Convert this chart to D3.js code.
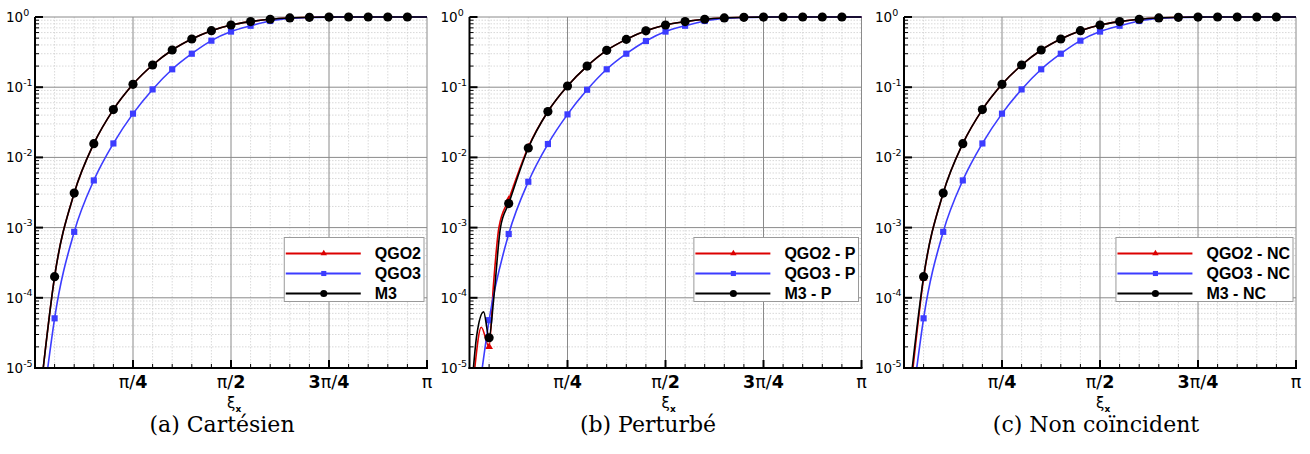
<!DOCTYPE html>
<html>
<head>
<meta charset="utf-8">
<script src="https://cdn.jsdelivr.net/npm/d3@7/dist/d3.min.js"></script>
<style>
body { margin: 0; background: #fff; }
</style>
</head>
<body>
<svg id="chart" width="1310" height="454"></svg>
<script>
// ---- data (x in units of pi/20, y = error) ----
var kTail = [1, 2, 3, 4, 5, 6, 7, 8, 9, 10, 11, 12, 13, 14, 15, 16, 17, 18, 19, 20];
var kTail2 = [2, 3, 4, 5, 6, 7, 8, 9, 10, 11, 12, 13, 14, 15, 16, 17, 18, 19, 20];
var kTail3 = [3, 4, 5, 6, 7, 8, 9, 10, 11, 12, 13, 14, 15, 16, 17, 18, 19, 20];

// (a) Cartésien
var m3A_x = [0.42].concat(kTail);
var m3A_y = [1e-5, 2.0e-4, 3.1e-3, 1.57e-2, 4.8e-2, 0.11, 0.207, 0.339, 0.486, 0.638, 0.77, 0.86, 0.93, 0.97, 0.99, 0.997, 1, 1, 1, 1, 1];
var qgo2A_x = [0.42].concat(kTail);
var qgo2A_y = [1e-5, 2.0e-4, 3.1e-3, 1.57e-2, 4.8e-2, 0.11, 0.207, 0.339, 0.486, 0.638, 0.77, 0.86, 0.93, 0.97, 0.99, 0.997, 1, 1, 1, 1, 1];
var qgo3A_x = [0.65].concat(kTail);
var qgo3A_y = [1e-5, 5.1e-5, 8.7e-4, 4.7e-3, 1.58e-2, 4.2e-2, 9.3e-2, 0.18, 0.30, 0.46, 0.62, 0.75, 0.877, 0.95, 0.985, 0.997, 1, 1, 1, 1, 1];

// (b) Perturbé
var m3B_x = [0.2, 0.36, 0.72, 1, 1.24, 1.58].concat(kTail2);
var m3B_y = [1e-5, 2.8e-5, 6.3e-5, 2.7e-5, 1e-4, 1e-3, 2.2e-3, 1.36e-2, 4.5e-2, 0.104, 0.2, 0.335, 0.48, 0.635, 0.77, 0.86, 0.93, 0.97, 0.99, 0.997, 1, 1, 1, 1, 1];
var qgo2B_x = [0.27, 0.6, 1, 1.22, 1.5, 2].concat(kTail3);
var qgo2B_y = [1e-5, 3.8e-5, 2e-5, 1.5e-4, 1e-3, 2.5e-3, 1.4e-2, 4.5e-2, 0.104, 0.2, 0.335, 0.48, 0.635, 0.77, 0.86, 0.93, 0.97, 0.99, 0.997, 1, 1, 1, 1, 1];
var qgo3B_x = [0.65].concat(kTail);
var qgo3B_y = [1e-5, 4.8e-5, 8.1e-4, 4.5e-3, 1.55e-2, 4.1e-2, 9.2e-2, 0.18, 0.30, 0.455, 0.62, 0.75, 0.877, 0.95, 0.985, 0.997, 1, 1, 1, 1, 1];

// (c) Non coïncident
var m3C_x = [0.42].concat(kTail);
var m3C_y = [1e-5, 2.0e-4, 3.1e-3, 1.57e-2, 4.8e-2, 0.11, 0.207, 0.339, 0.486, 0.638, 0.77, 0.86, 0.93, 0.97, 0.99, 0.997, 1, 1, 1, 1, 1];
var qgo2C_x = [0.46].concat(kTail);
var qgo2C_y = [1e-5, 1.9e-4, 3.1e-3, 1.57e-2, 4.8e-2, 0.11, 0.207, 0.339, 0.486, 0.638, 0.77, 0.86, 0.93, 0.97, 0.99, 0.997, 1, 1, 1, 1, 1];
var qgo3C_x = [0.65].concat(kTail);
var qgo3C_y = [1e-5, 5.1e-5, 8.7e-4, 4.7e-3, 1.58e-2, 4.2e-2, 9.3e-2, 0.18, 0.30, 0.46, 0.62, 0.75, 0.877, 0.95, 0.985, 0.997, 1, 1, 1, 1, 1];

// ticks
var xTickVals = [Math.PI / 4, Math.PI / 2, 3 * Math.PI / 4, Math.PI];
var xTickLabels = ["π/4", "π/2", "3π/4", "π"];
var yTickExps = [0, -1, -2, -3, -4, -5];
var seriesNames = ["QGO2", "QGO3", "M3"];
var captions = ["(a) Cartésien", "(b) Perturbé", "(c) Non coïncident"];
var suffixes = ["", " - P", " - NC"];

// ---- layout ----
var svg = d3.select("#chart");
var plotW = 392, plotH = 351, plotTop = 17;
var lefts = [35, 469.5, 904];
var capX = [222, 648, 1096];
var colors = ["#dc0000", "#3c3cff", "#000000"];
var shapes = [d3.symbolTriangle, d3.symbolSquare, d3.symbolCircle];
var markSize = [26, 38, 66];
var legSize = [18, 26, 40];

var panelData = [
  [[qgo2A_x, qgo2A_y], [qgo3A_x, qgo3A_y], [m3A_x, m3A_y]],
  [[qgo2B_x, qgo2B_y], [qgo3B_x, qgo3B_y], [m3B_x, m3B_y]],
  [[qgo2C_x, qgo2C_y], [qgo3C_x, qgo3C_y], [m3C_x, m3C_y]]
];

var fontSans = "'DejaVu Sans', sans-serif";

lefts.forEach(function (left, p) {
  var x = d3.scaleLinear().domain([0, Math.PI]).range([left, left + plotW]);
  var y = d3.scaleLog().domain([1e-5, 1]).range([plotTop + plotH, plotTop]);
  var g = svg.append("g");

  // minor grid
  var minorX = d3.range(1, 20).filter(function (k) { return k % 5 !== 0; }).map(function (k) { return k * Math.PI / 20; });
  var minorY = [];
  yTickExps.forEach(function (e) {
    if (e === 0) return;
    for (var m = 2; m <= 9; m++) minorY.push(m * Math.pow(10, e));
  });
  g.selectAll(".gx").data(minorX).enter().append("line")
    .attr("x1", function (d) { return x(d); }).attr("x2", function (d) { return x(d); })
    .attr("y1", plotTop).attr("y2", plotTop + plotH)
    .attr("stroke", "#cfcfcf").attr("stroke-width", 0.8).attr("stroke-dasharray", "1.5,1.5");
  g.selectAll(".gy").data(minorY).enter().append("line")
    .attr("x1", left).attr("x2", left + plotW)
    .attr("y1", function (d) { return y(d); }).attr("y2", function (d) { return y(d); })
    .attr("stroke", "#cfcfcf").attr("stroke-width", 0.8).attr("stroke-dasharray", "1.5,1.5");

  // major grid + frame
  g.selectAll(".Gx").data(xTickVals).enter().append("line")
    .attr("x1", function (d) { return x(d); }).attr("x2", function (d) { return x(d); })
    .attr("y1", plotTop).attr("y2", plotTop + plotH)
    .attr("stroke", "#8a8a8a").attr("stroke-width", 1);
  g.selectAll(".Gy").data(yTickExps).enter().append("line")
    .attr("x1", left).attr("x2", left + plotW)
    .attr("y1", function (d) { return y(Math.pow(10, d)); }).attr("y2", function (d) { return y(Math.pow(10, d)); })
    .attr("stroke", "#8a8a8a").attr("stroke-width", 1);

  // curves
  var clipId = "clip" + p;
  svg.append("clipPath").attr("id", clipId).append("rect")
    .attr("x", left).attr("y", plotTop - 4).attr("width", plotW + 2).attr("height", plotH + 4);
  var line = d3.line()
    .x(function (d) { return x(d[0] * Math.PI / 20); })
    .y(function (d) { return y(d[1]); })
    .curve(d3.curveMonotoneX);

  panelData[p].forEach(function (s, i) {
    var pts = s[0].map(function (k, j) { return [k, s[1][j]]; });
    g.append("path").datum(pts)
      .attr("d", line).attr("fill", "none")
      .attr("stroke", colors[i]).attr("stroke-width", 1.6)
      .attr("clip-path", "url(#" + clipId + ")");
    var marks = pts.filter(function (d) { return Number.isInteger(d[0]) && d[0] >= 1 && d[0] <= 19; });
    g.selectAll(".m" + i).data(marks).enter().append("path")
      .attr("d", d3.symbol().type(shapes[i]).size(markSize[i]))
      .attr("transform", function (d) { return "translate(" + x(d[0] * Math.PI / 20) + "," + y(d[1]) + ")"; })
      .attr("fill", colors[i]);
  });

  // axes
  var bottom = plotTop + plotH;
  g.append("line").attr("x1", left).attr("x2", left).attr("y1", plotTop).attr("y2", bottom + 1)
    .attr("stroke", "#000").attr("stroke-width", 2);
  g.append("line").attr("x1", left - 1).attr("x2", left + plotW + 1).attr("y1", bottom).attr("y2", bottom)
    .attr("stroke", "#000").attr("stroke-width", 2);
  // y ticks
  g.selectAll(".ty").data(yTickExps).enter().append("line")
    .attr("x1", left).attr("x2", left + 8)
    .attr("y1", function (d) { return y(Math.pow(10, d)); }).attr("y2", function (d) { return y(Math.pow(10, d)); })
    .attr("stroke", "#000").attr("stroke-width", 2);
  g.selectAll(".tym").data(minorY).enter().append("line")
    .attr("x1", left).attr("x2", left + 4)
    .attr("y1", function (d) { return y(d); }).attr("y2", function (d) { return y(d); })
    .attr("stroke", "#000").attr("stroke-width", 1);
  // x ticks
  g.selectAll(".tx").data(xTickVals).enter().append("line")
    .attr("x1", function (d) { return x(d); }).attr("x2", function (d) { return x(d); })
    .attr("y1", bottom).attr("y2", bottom - 8)
    .attr("stroke", "#000").attr("stroke-width", 2);
  g.selectAll(".txm").data(minorX).enter().append("line")
    .attr("x1", function (d) { return x(d); }).attr("x2", function (d) { return x(d); })
    .attr("y1", bottom).attr("y2", bottom - 4)
    .attr("stroke", "#000").attr("stroke-width", 1);

  // y tick labels 10^n
  var yl = g.selectAll(".yl").data(yTickExps).enter().append("text")
    .attr("x", left - 29).attr("y", function (d) { return y(Math.pow(10, d)) + 5; })
    .attr("font-family", fontSans).attr("font-size", 13.5).attr("fill", "#000");
  yl.append("tspan").text("10");
  yl.append("tspan").attr("dy", -6.5).attr("font-size", 9.5).text(function (d) { return d === 0 ? "0" : "-" + (-d); });

  // x tick labels: digits bold, pi and slash regular
  var xl = g.selectAll(".xl").data(xTickVals).enter().append("text")
    .attr("x", function (d) { return x(d); }).attr("y", bottom + 19.5)
    .attr("text-anchor", "middle")
    .attr("font-family", fontSans).attr("font-size", 17.5).attr("fill", "#000");
  xl.each(function (d, i) {
    var t = d3.select(this);
    xTickLabels[i].split("").forEach(function (ch) {
      t.append("tspan").text(ch).attr("font-weight", /[0-9]/.test(ch) ? "bold" : "normal");
    });
  });

  // axis title
  var xt = g.append("text").attr("x", x(Math.PI / 2) - 4).attr("y", bottom + 40)
    .attr("font-family", fontSans).attr("font-size", 15).attr("fill", "#000");
  xt.append("tspan").text("ξ");
  xt.append("tspan").attr("dy", 4).attr("font-size", 9).attr("font-weight", "bold").text("x");

  // caption
  svg.append("text").attr("x", capX[p]).attr("y", 432).attr("text-anchor", "middle")
    .attr("font-family", "'DejaVu Serif', serif").attr("font-size", 22).attr("fill", "#000")
    .text(captions[p]);

  // legend
  var leg = g.append("g");
  var box = leg.append("rect").attr("y", 237.5).attr("height", 64)
    .attr("fill", "#fff").attr("stroke", "#9a9a9a").attr("stroke-width", 1);
  var maxW = 0;
  var rows = seriesNames.map(function (n, i) {
    var t = leg.append("text").attr("y", 253.5 + i * 20 + 5.5)
      .attr("font-family", "'Liberation Sans', Arial, sans-serif").attr("font-weight", "bold")
      .attr("font-size", 16).attr("fill", "#000").text(n + suffixes[p]);
    maxW = Math.max(maxW, t.node().getComputedTextLength());
    return t;
  });
  var boxW = 90.5 + maxW + 3;
  var boxL = left + plotW - 3 - boxW;
  box.attr("x", boxL).attr("width", boxW);
  seriesNames.forEach(function (n, i) {
    var cy = 253.5 + i * 20;
    leg.append("line").attr("x1", boxL + 1.5).attr("x2", boxL + 76.5).attr("y1", cy).attr("y2", cy)
      .attr("stroke", colors[i]).attr("stroke-width", 1.8);
    leg.append("path").attr("d", d3.symbol().type(shapes[i]).size(legSize[i]))
      .attr("transform", "translate(" + (boxL + 39.5) + "," + cy + ")").attr("fill", colors[i]);
    rows[i].attr("x", boxL + 90.5);
  });
});
</script>
</body>
</html>
